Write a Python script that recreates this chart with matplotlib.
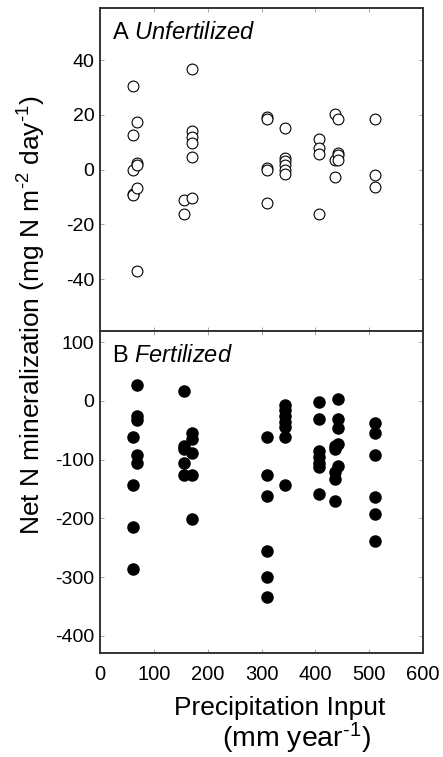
import matplotlib.pyplot as plt

plt.rcParams['font.family'] = ['Liberation Sans', 'DejaVu Sans']
plt.rcParams['mathtext.fontset'] = 'custom'
plt.rcParams['mathtext.rm'] = 'Liberation Sans'
plt.rcParams['mathtext.it'] = 'Liberation Sans:italic'
plt.rcParams['axes.unicode_minus'] = False

# precipitation input (mm/yr) and net N mineralization, unfertilized plots
precip_unfert = [62, 62, 62, 62, 62,
                 68, 68, 68, 68, 68,
                 156, 156,
                 171, 171, 171, 171, 171, 171,
                 311, 311, 311, 311, 311,
                 344, 344, 344, 344, 344, 344,
                 406, 406, 406, 406,
                 437, 437, 437,
                 443, 443, 443, 443,
                 511, 511, 511]
nmin_unfert = [30.4, 12.5, -0.2, -8.9, -9.3,
               17.4, 2.5, 1.8, -6.7, -36.9,
               -11.0, -16.1,
               36.8, 14.0, 11.9, 9.7, 4.5, -10.3,
               19.2, 18.3, 0.6, -0.2, -12.2,
               15.0, 4.3, 3.2, 1.5, -0.3, -1.6,
               11.3, 7.7, 5.5, -16.1,
               20.3, 3.3, -2.7,
               18.5, 6.1, 5.3, 3.6,
               18.3, -2.1, -6.3]

# fertilized plots
precip_fert = [62, 62, 62, 62,
               68, 68, 68, 68, 68,
               156, 156, 156, 156, 156,
               171, 171, 171, 171, 171,
               311, 311, 311, 311, 311, 311,
               344, 344, 344, 344, 344, 344, 344,
               406, 406, 406, 406, 406, 406, 406,
               437, 437, 437, 437, 437,
               443, 443, 443, 443, 443,
               511, 511, 511, 511, 511, 511]
nmin_fert = [-62, -143, -214, -286,
             27, -26, -32, -92, -106,
             17, -77, -82, -105, -126,
             -55, -64, -89, -126, -201,
             -62, -126, -162, -255, -300, -334,
             -7, -15, -26, -35, -45, -61, -143,
             -2, -31, -85, -95, -105, -112, -158,
             -76, -82, -121, -133, -170,
             3, -31, -46, -73, -110,
             -38, -54, -92, -163, -192, -239]

x_ticks = [0, 100, 200, 300, 400, 500, 600]
y_ticks_unfert = [-40, -20, 0, 20, 40]
y_ticks_fert = [-400, -300, -200, -100, 0, 100]

fig = plt.figure(figsize=(4.43, 7.57), dpi=100)
ax1 = fig.add_axes([0.2257, 0.5627, 0.7292, 0.4267])
ax2 = fig.add_axes([0.2257, 0.1374, 0.7292, 0.4253])

ax1.plot(precip_unfert, nmin_unfert, 'o', ms=7.8, mfc='white', mec='black',
         mew=0.8, linestyle='none')
ax2.plot(precip_fert, nmin_fert, 'o', ms=8.0, mfc='black', mec='black',
         linestyle='none')

ax1.set_ylim(-59, 59)
ax2.set_ylim(-429, 119)
ax1.set_yticks(y_ticks_unfert)
ax2.set_yticks(y_ticks_fert)

for ax in (ax1, ax2):
    ax.set_xlim(0, 600)
    ax.set_xticks(x_ticks)
    ax.tick_params(direction='in', length=3, width=0.6, color='#999999',
                   labelsize=14, top=True, right=True, pad=4)
    ax.tick_params(axis='x', labelsize=14.5, pad=9)
    for sp in ax.spines.values():
        sp.set_linewidth(1.4)
        sp.set_color('#333333')

ax1.tick_params(labelbottom=False)

ax1.text(0.036, 0.905, r'A $\mathit{Unfertilized}$', transform=ax1.transAxes,
         fontsize=17, va='baseline', ha='left')
ax2.text(0.036, 0.905, r'B $\mathit{Fertilized}$', transform=ax2.transAxes,
         fontsize=17, va='baseline', ha='left')

fig.text(0.072, 0.584,
         'Net N mineralization (mg N m$^{\u2010 2}$ day$^{\u2010 1}$)',
         rotation=90, ha='center', va='center', fontsize=19)
fig.text(0.632, 0.0555, 'Precipitation Input', ha='center', va='baseline',
         fontsize=19)
fig.text(0.668, 0.0125, '(mm year$^{\u2010 1}$)', ha='center', va='baseline',
         fontsize=20.5)

fig.savefig('out.png', dpi=100)
